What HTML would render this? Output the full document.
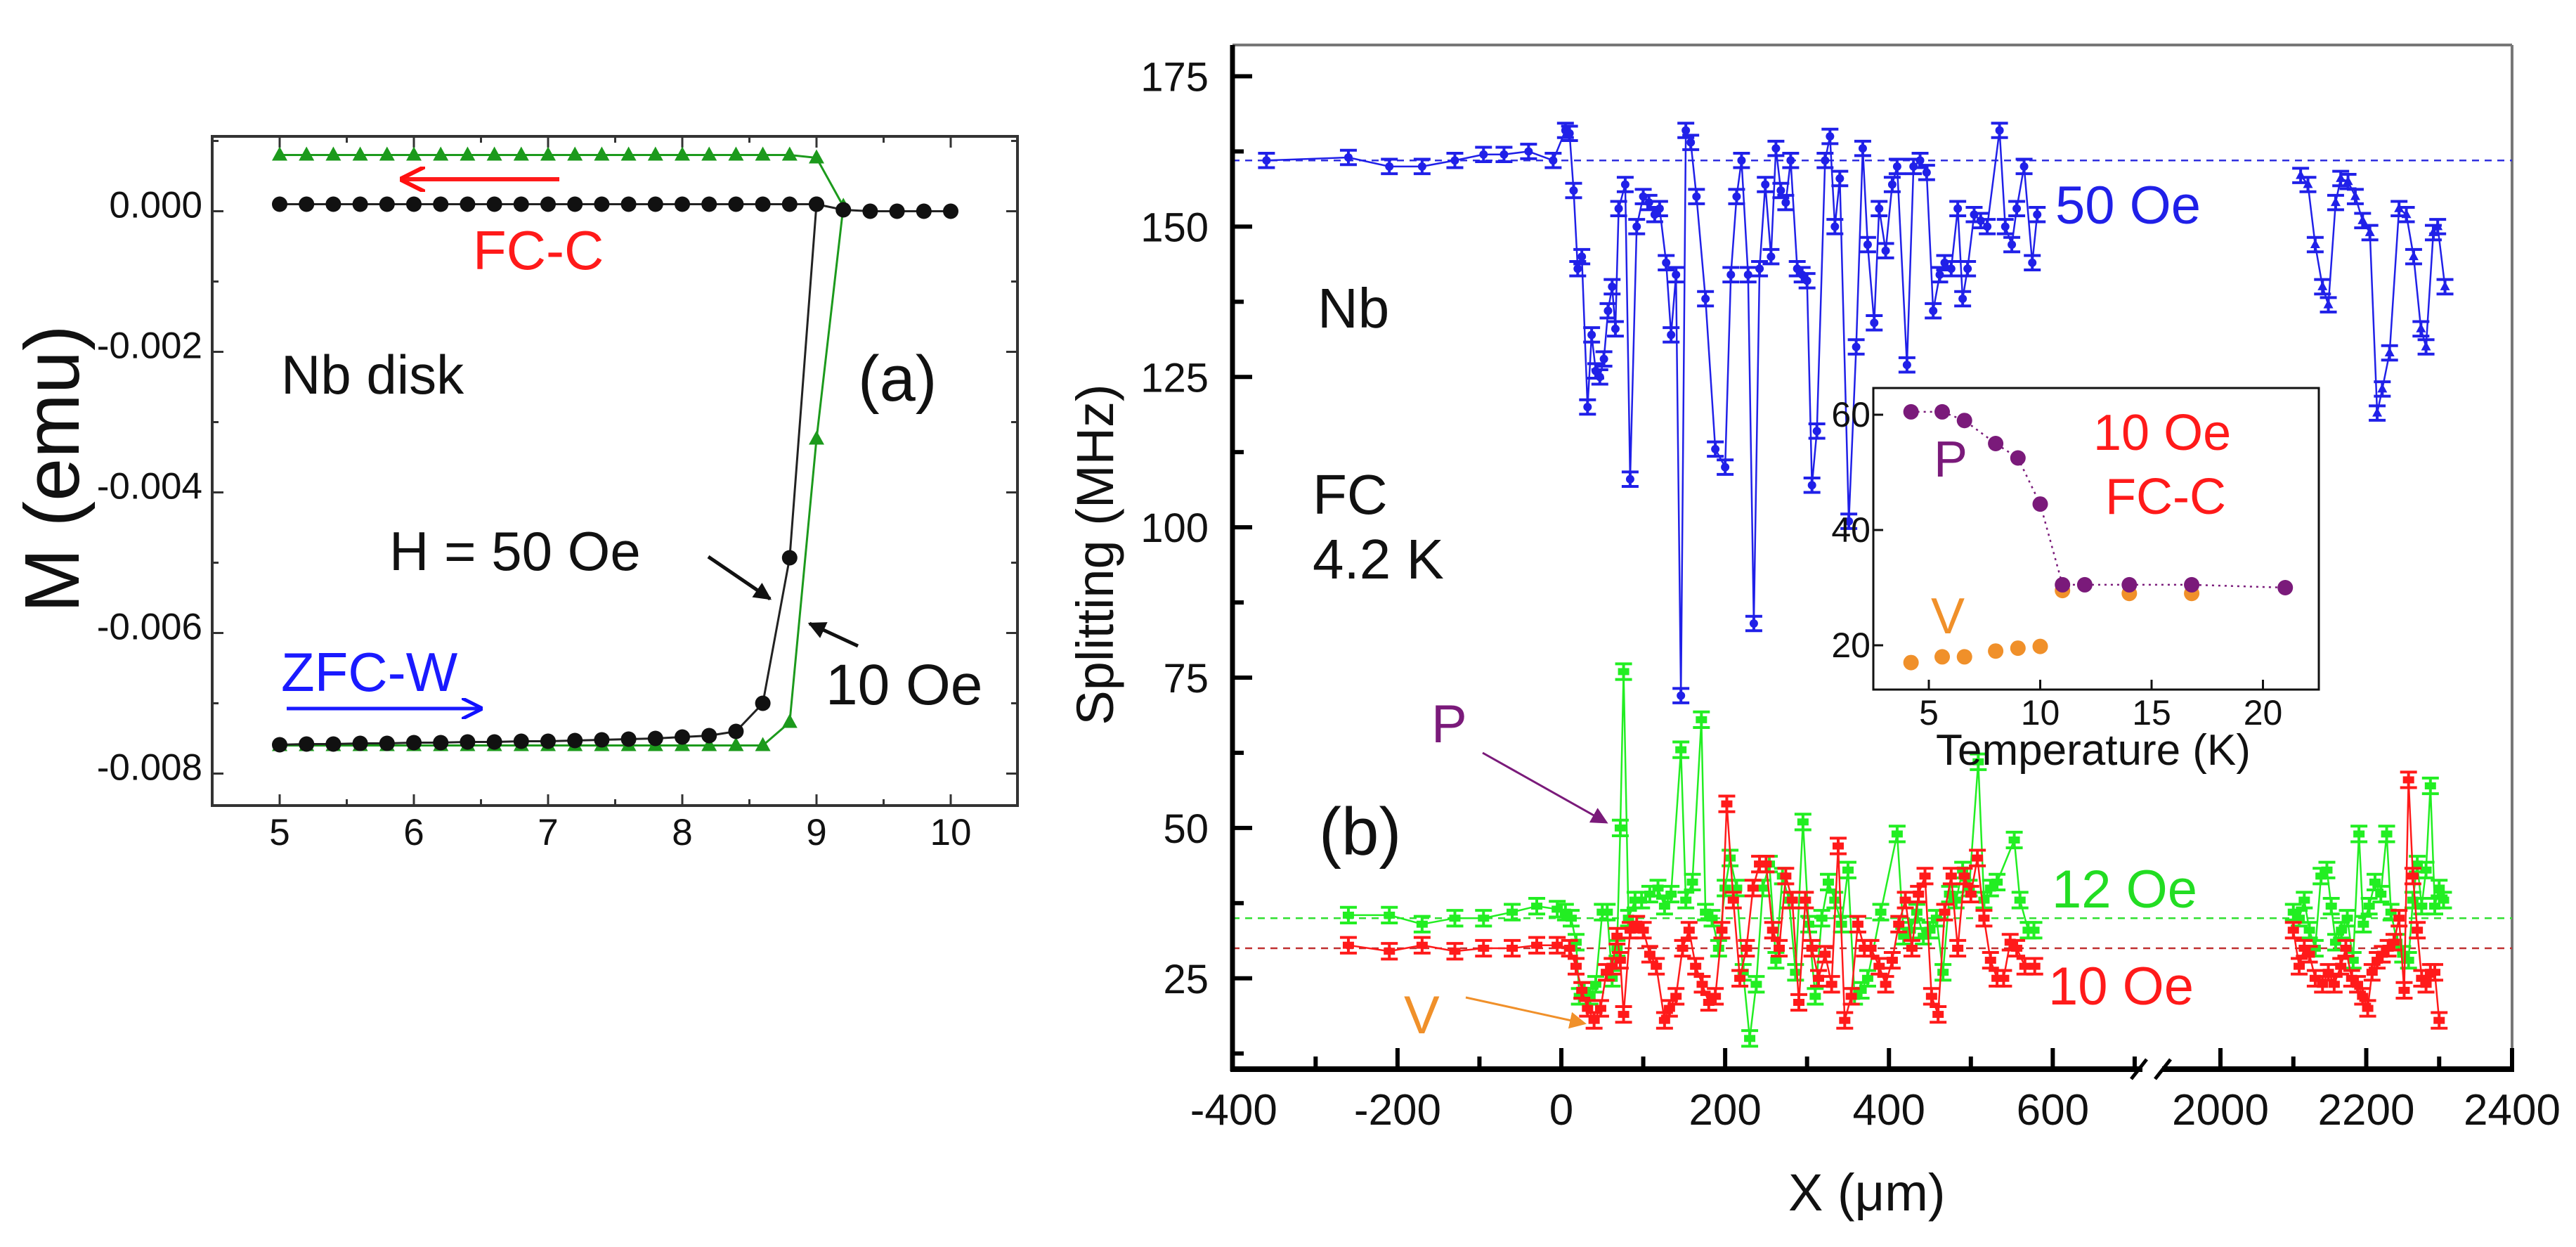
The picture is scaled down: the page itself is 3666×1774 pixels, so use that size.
<!DOCTYPE html>
<html><head><meta charset="utf-8"><style>
html,body{margin:0;padding:0;background:#fff;}
svg{display:block;font-family:"Liberation Sans",Arial,sans-serif;}
</style></head><body>
<svg id="fig" width="3666" height="1774" viewBox="0 0 3666 1774" xmlns="http://www.w3.org/2000/svg">
<defs>
<marker id="ahR" markerWidth="6" markerHeight="6" refX="5" refY="3" orient="auto" markerUnits="strokeWidth"><path d="M0,0 L6,3 L0,6" fill="none" stroke="#ff1010" stroke-width="1"/></marker>
<marker id="ahB" markerWidth="6" markerHeight="6" refX="5" refY="3" orient="auto" markerUnits="strokeWidth"><path d="M0,0 L6,3 L0,6" fill="none" stroke="#1010ff" stroke-width="1"/></marker>
<marker id="ahK" markerWidth="5" markerHeight="5" refX="4.5" refY="2.5" orient="auto" markerUnits="strokeWidth"><path d="M0,0 L5,2.5 L0,5 Z" fill="#111"/></marker>
<marker id="ahP" markerWidth="8" markerHeight="8" refX="7" refY="4" orient="auto" markerUnits="strokeWidth"><path d="M0,0 L8,4 L0,8 Z" fill="#7a1a7a"/></marker>
<marker id="ahO" markerWidth="8" markerHeight="8" refX="7" refY="4" orient="auto" markerUnits="strokeWidth"><path d="M0,0 L8,4 L0,8 Z" fill="#f0902a"/></marker>
</defs>
<g id="pa"></g>
<g id="pb"></g>
<g id="pin"></g>
</svg>
<script>
// ---------- Panel (a) data ----------
const aX = [5,5.2,5.4,5.6,5.8,6,6.2,6.4,6.6,6.8,7,7.2,7.4,7.6,7.8,8,8.2,8.4,8.6,8.8,9,9.2,9.4,9.6,9.8,10];
const a50ZFC = [-0.00769,-0.00768,-0.00768,-0.00767,-0.00767,-0.00766,-0.00766,-0.00765,-0.00765,-0.00764,-0.00764,-0.00763,-0.00762,-0.00761,-0.0076,-0.00758,-0.00756,-0.0075,-0.0071,-0.00503,0.0];
const a50FC = [0,0,0,0,0,0,0,0,0,0,0,0,0,0,0,0,0,0,0,0,0,-0.00008,-0.0001,-0.0001,-0.0001,-0.0001];
const a10ZFC = [-0.0077,-0.0077,-0.0077,-0.0077,-0.0077,-0.0077,-0.0077,-0.0077,-0.0077,-0.0077,-0.0077,-0.0077,-0.0077,-0.0077,-0.0077,-0.0077,-0.0077,-0.0077,-0.0077,-0.00737,-0.00334,-0.00003];
const a10FC = [0.0007,0.0007,0.0007,0.0007,0.0007,0.0007,0.0007,0.0007,0.0007,0.0007,0.0007,0.0007,0.0007,0.0007,0.0007,0.0007,0.0007,0.0007,0.0007,0.0007,0.00066,-0.00003];
const aXTicks = ["5","6","7","8","9","10"];
const aYTicks = ["0.000","-0.002","-0.004","-0.006","-0.008"];

// ---------- Panel (b) data ----------
const b50 = [[-360,161],[-260,161.5],[-210,160],[-170,160],[-130,161],[-95,162],[-70,162],[-40,162.5],[-10,161],[5,166],[10,165.5],[15,156],[20,143],[25,145],[32,120],[37,132],[42,126],[47,125],[52,128],[57,136],[62,140],[66,133],[70,153],[78,157],[84,108],[92,150],[100,155],[107,154],[114,152],[120,153],[128,144],[134,132],[140,142],[146,72],[152,166],[158,164],[165,155],[176,138],[188,113],[200,110],[207,142],[214,155],[220,161],[228,142],[235,84],[242,143],[249,157],[256,145],[262,163],[268,156],[274,154],[280,161],[288,143],[294,142],[300,141],[306,107],[312,116],[322,161],[328,165],[334,150],[340,158],[351,101],[360,130],[368,163],[374,147],[382,134],[388,153],[396,146],[404,157],[410,160],[422,127],[430,160],[438,161],[446,159],[454,136],[462,142],[468,144],[476,143],[484,153],[490,138],[496,143],[504,152],[512,151],[520,150],[535,166],[542,150],[550,147],[556,153],[565,160],[575,144],[581,152]];
const b50R = [[2110,158.5],[2120,157],[2130,147],[2140,140],[2148,137],[2158,154],[2165,158],[2175,157.5],[2185,155],[2195,151],[2205,149],[2215,119],[2222,123],[2232,129],[2245,153],[2255,152],[2265,145],[2275,133],[2282,130],[2292,149],[2298,150],[2308,140]];
const b12 = [[-260,35.5],[-210,35.5],[-170,34],[-130,35],[-95,35],[-60,36],[-30,37],[-5,36.5],[5,36],[12,35],[18,31],[22,22],[28,23],[35,22],[42,24],[50,36],[56,36],[62,25],[68,30],[72,50],[76,76],[82,35],[90,38],[98,38],[108,39],[118,40],[126,37],[134,39],[146,63],[152,38],[160,41],[171,68],[176,36],[184,35],[192,30],[200,40],[206,45],[214,40],[222,26],[230,15],[238,24],[246,40],[254,44],[262,28],[270,42],[278,38],[286,26],[295,51],[302,34],[310,22],[318,35],[326,41],[334,38],[342,34],[350,43],[358,22],[366,23],[374,25],[390,36],[410,49],[418,32],[426,33],[434,36],[442,32],[450,33],[458,35],[466,26],[474,39],[482,38],[490,43],[498,40],[509,61],[516,38],[524,40],[532,41],[553,48],[560,38],[570,33],[577,33]];
const b12R = [[2100,36],[2108,35],[2115,38],[2122,33],[2130,30],[2138,42],[2146,43],[2152,37],[2158,31],[2166,33],[2174,35],[2182,28],[2190,49],[2196,34],[2204,37],[2212,41],[2220,39],[2228,49],[2234,36],[2242,31],[2250,29],[2258,28],[2264,38],[2270,44],[2276,37],[2282,43],[2288,57],[2294,37],[2300,40],[2306,38]];
const b10 = [[-260,30.5],[-210,29.5],[-170,30.5],[-130,29.5],[-95,30],[-60,30],[-30,30.5],[-5,30.5],[10,30],[18,27],[25,23],[32,20],[40,18],[48,20],[55,26],[62,27],[68,32],[72,28],[76,19],[84,33],[92,34],[100,33],[108,29],[116,27],[126,18],[132,20],[140,22],[148,30],[156,33],[164,27],[172,24],[180,21],[188,22],[196,33],[202,54],[210,38],[218,25],[226,30],[234,40],[242,44],[250,44],[258,33],[266,30],[274,42],[282,38],[290,21],[298,38],[306,30],[314,25],[322,29],[330,24],[338,47],[346,18],[354,22],[362,34],[370,30],[378,30],[388,27],[396,24],[404,28],[412,34],[420,38],[428,30],[436,39],[444,42],[452,22],[460,19],[468,36],[476,42],[484,30],[492,42],[500,39],[508,45],[516,35],[524,28],[532,25],[540,25],[548,31],[556,30],[566,27],[578,27]];
const b10R = [[2100,33],[2108,27],[2115,30],[2122,29],[2130,25],[2140,24],[2148,26],[2156,24],[2165,27],[2172,30],[2180,25],[2188,24],[2195,22],[2202,20],[2208,26],[2215,28],[2222,29],[2230,30],[2238,31],[2245,35],[2252,23],[2258,58],[2264,42],[2270,33],[2276,25],[2282,24],[2288,26],[2294,26],[2300,18]];
const bErr = [1.2, 1.3, 1.3];
const bRef = [161, 35, 30];
const bYTicks = [25,50,75,100,125,150,175];
const bXTicksL = [-400,-200,0,200,400,600];
const bXTicksR = [2000,2200,2400];

// ---------- Inset data ----------
const inP = [[4.2,60.5],[5.6,60.5],[6.6,59],[8,55],[9,52.5],[10,44.5],[11,30.5],[12,30.5],[14,30.5],[16.8,30.5],[21,30]];
const inV = [[4.2,17],[5.6,18],[6.6,18],[8,19],[9,19.5],[10,19.8],[11,29.5],[14,29],[16.8,29]];
const inXTicks = [5,10,15,20];
const inYTicks = [20,40,60];

const NS = "http://www.w3.org/2000/svg";
function mk(parent, tag, attrs, text){
  const e = document.createElementNS(NS, tag);
  for (const k in attrs) e.setAttribute(k, attrs[k]);
  if (text !== undefined) e.textContent = text;
  parent.appendChild(e);
  return e;
}

// ===== Panel (a) =====
const pa = document.getElementById('pa');
const aL=302, aR=1448, aT=194, aB=1146;
const ax = v => 398 + (v-5)*191;
const ay = m => 290.5 - m*100000;
for (let v=4.5; v<=10.51; v+=0.5){
  const major = Math.abs(v-Math.round(v))<1e-6;
  const len = major?16:9;
  const t1 = mk(pa,'line',{x1:ax(v),x2:ax(v),y1:aB,y2:aB-len,stroke:'#333','stroke-width':3});
  
  
  mk(pa,'line',{x1:ax(v),x2:ax(v),y1:aT,y2:aT+len,stroke:'#333','stroke-width':3});
}
for (let m=0.0009; m>=-0.0085; m-=0.001){
  const mm = Math.round(m*10000)/10000;
  const major = Math.abs(Math.round(mm*1000)%2)===0;
  const len = major?16:9;
  mk(pa,'line',{x1:aL,x2:aL+len,y1:ay(mm),y2:ay(mm),stroke:'#333','stroke-width':3});
  mk(pa,'line',{x1:aR,x2:aR-len,y1:ay(mm),y2:ay(mm),stroke:'#333','stroke-width':3});
}
const aFrame = mk(pa,'rect',{x:aL,y:aT,width:aR-aL,height:aB-aT,fill:'none',stroke:'#333','stroke-width':4});


aXTicks.forEach((t,i)=>{
  const e = mk(pa,'text',{x:ax(+t),y:1202,'font-size':53,'text-anchor':'middle',fill:'#111'},t);
  
  
});
aYTicks.forEach((t,i)=>{
  const e = mk(pa,'text',{x:288,y:ay(+t)+19,'font-size':53,'text-anchor':'end',fill:'#111'},t);
  
  
});
function aSeries(xs, ys, color, shape, name){
  const pts = ys.map((y,i)=>[ax(xs[i]),ay(y)]);
  const pl = mk(pa,'polyline',{points:pts.map(p=>p.join(',')).join(' '),fill:'none',stroke:color,'stroke-width':3});
  
  
  pts.forEach(p=>{
    let e;
    if (shape==='c') e = mk(pa,'circle',{cx:p[0],cy:p[1],r:11,fill:'#111'});
    else e = mk(pa,'polygon',{points:`${p[0]},${p[1]-12} ${p[0]-11},${p[1]+8} ${p[0]+11},${p[1]+8}`,fill:'#1c9a1c'});
    
    
  });
}
aSeries(aX, a10FC, '#1c9a1c', 't', 'a-10oe-fc');
aSeries(aX, a10ZFC, '#1c9a1c', 't', 'a-10oe-zfc');
aSeries(aX, a50FC, '#222', 'c', 'a-50oe-fc');
aSeries(aX, a50ZFC, '#222', 'c', 'a-50oe-zfc');

function txt(parent, name, x, y, size, color, s, extra){
  const e = mk(parent,'text',Object.assign({x:x,y:y,'font-size':size,fill:color},extra||{}),s);
  
  
  return e;
}
function arrow(parent, name, x1,y1,x2,y2,color,w,marker){
  const e = mk(parent,'line',{x1:x1,y1:y1,x2:x2,y2:y2,stroke:color,'stroke-width':w,'marker-end':'url(#'+marker+')'});
  
  
}
txt(pa,'a-y-axis-title',0,0,110,'#111','M (emu)',{transform:'translate(112,667) rotate(-90)','text-anchor':'middle'});
txt(pa,'fc-c-label',673,383,78,'#ff1a1a','FC-C');
arrow(pa,'fc-c-arrow',796,255,575,255,'#ff1a1a',6,'ahR');
txt(pa,'nb-disk-label',400,560,78,'#111','Nb disk');
txt(pa,'panel-a-label',1221,570,92,'#111','(a)');
txt(pa,'h-50oe-label',554,811,78,'#111','H = 50 Oe');
arrow(pa,'h-50oe-arrow',1008,792,1096,852,'#111',5,'ahK');
txt(pa,'10oe-label',1175,1002,82,'#111','10 Oe');
arrow(pa,'10oe-arrow',1221,919,1152,887,'#111',5,'ahK');
txt(pa,'zfc-w-label',400,983,78,'#1a1aff','ZFC-W');
arrow(pa,'zfc-w-arrow',408,1008,682,1008,'#1a1aff',5,'ahB');

// ===== Panel (b) =====
const pb = document.getElementById('pb');
const bL=1754, bR=3575, bT=64, bB=1521, brk=3063;
const bx = v => v<1000 ? 2222 + v*1.1656 : 3160 + (v-2000)*1.0375;
const by = v => 108.5 + (175-v)*8.555;
mk(pb,'line',{x1:bL,y1:bT,x2:bR,y2:bT,stroke:'#777','stroke-width':4});
mk(pb,'line',{x1:bR,y1:bT,x2:bR,y2:bB,stroke:'#777','stroke-width':4});
const refCols = ['#3030e0','#30e030','#c03030'];
bRef.forEach((v,i)=>{
  const e = mk(pb,'line',{x1:bL,x2:bR,y1:by(v),y2:by(v),stroke:refCols[i],'stroke-width':2.5,'stroke-dasharray':'10,8'});
  
  
});
function bSeries(data, color, name, err, shape){
  const pts = data.map(d=>[bx(d[0]),by(d[1])]);
  const pl = mk(pb,'polyline',{points:pts.map(p=>p.join(',')).join(' '),fill:'none',stroke:color,'stroke-width':2.5});
  
  
  data.forEach((d,i)=>{
    const x=pts[i][0], y=pts[i][1];
    const e1 = by(d[1]+err), e2 = by(d[1]-err);
    const g = mk(pb,'g',{});
    
    
    mk(g,'path',{d:`M${x},${e1}V${e2}M${x-12},${e1}H${x+12}M${x-12},${e2}H${x+12}`,stroke:color,'stroke-width':4,fill:'none'});
    if (shape==='c') mk(g,'circle',{cx:x,cy:y,r:6,fill:color});
    else if (shape==='t') mk(g,'polygon',{points:`${x},${y-8} ${x-7},${y+5} ${x+7},${y+5}`,fill:color});
    else mk(g,'rect',{x:x-8,y:y-5,width:16,height:10,fill:color});
  });
}
bSeries(b50,'#2020e8','b-50oe',bErr[0],'c');
bSeries(b50R,'#2020e8','b-50oe-right',bErr[0],'t');
bSeries(b12,'#22ee22','b-12oe',bErr[1],'s');
bSeries(b12R,'#22ee22','b-12oe-right',bErr[1],'s');
bSeries(b10,'#ff1a1a','b-10oe',bErr[2],'s');
bSeries(b10R,'#ff1a1a','b-10oe-right',bErr[2],'s');
const yAx = mk(pb,'line',{x1:bL,y1:bT,x2:bL,y2:bB+3,stroke:'#000','stroke-width':7});


const xAx1 = mk(pb,'line',{x1:bL-3,y1:bB,x2:brk-14,y2:bB,stroke:'#000','stroke-width':8});


mk(pb,'line',{x1:brk+14,y1:bB,x2:bR+3,y2:bB,stroke:'#000','stroke-width':8});
mk(pb,'line',{x1:bR,y1:bB,x2:bR,y2:bB-30,stroke:'#000','stroke-width':6});
const br = mk(pb,'path',{d:`M${brk-30},${bB+14}L${brk-8},${bB-14}M${brk+4},${bB+14}L${brk+26},${bB-14}`,stroke:'#000','stroke-width':5,fill:'none'});


for (let v=12.5; v<=175.1; v+=12.5){
  const major = Math.abs(v%25)<1e-6;
  mk(pb,'line',{x1:bL,x2:bL+(major?28:16),y1:by(v),y2:by(v),stroke:'#000','stroke-width':6});
}
for (let v=-300; v<=700; v+=100){
  const major = Math.abs(v%200)<1e-6;
  if (bx(v)>brk-20) continue;
  mk(pb,'line',{x1:bx(v),x2:bx(v),y1:bB,y2:bB-(major?30:18),stroke:'#000','stroke-width':6});
}
for (let v=2000; v<=2300; v+=100){
  const major = Math.abs(v%200)<1e-6;
  mk(pb,'line',{x1:bx(v),x2:bx(v),y1:bB,y2:bB-(major?30:18),stroke:'#000','stroke-width':6});
}
bYTicks.forEach(t=>{ txt(pb,'b-y-tick-label',1720,by(t)+21,58,'#111',String(t),{'text-anchor':'end'}); });
bXTicksL.forEach(t=>{ txt(pb,'b-x-tick-label',bx(t),1600,62,'#111',String(t),{'text-anchor':'middle'}); });
bXTicksR.forEach(t=>{ txt(pb,'b-x-tick-label',bx(t),1600,62,'#111',String(t),{'text-anchor':'middle'}); });
txt(pb,'b-y-axis-title',0,0,74,'#111','Splitting (MHz)',{transform:'translate(1584,789) rotate(-90)','text-anchor':'middle'});
txt(pb,'b-x-axis-title',2545,1722,74,'#111','X (\u03bcm)');
txt(pb,'nb-label',1875,466,80,'#111','Nb');
txt(pb,'fc-label',1868,731,80,'#111','FC');
txt(pb,'temp-label',1868,823,80,'#111','4.2 K');
txt(pb,'panel-b-label',1877,1216,96,'#111','(b)');
txt(pb,'50oe-label',2925,318,76,'#2020e8','50 Oe');
txt(pb,'12oe-label',2920,1291,76,'#22dd22','12 Oe');
txt(pb,'10oe-b-label',2915,1429,76,'#ff1a1a','10 Oe');
txt(pb,'p-label',2037,1056,76,'#7a1a7a','P');
arrow(pb,'p-arrow',2110,1071,2286,1170,'#7a1a7a',3,'ahP');
txt(pb,'v-label',1998,1470,76,'#f0902a','V');
arrow(pb,'v-arrow',2086,1419,2255,1456,'#f0902a',3,'ahO');

// ===== Inset =====
const pin = document.getElementById('pin');
const iL=2666, iR=3300, iT=552, iB=981;
const ix = t => 2745 + (t-5)*31.7;
const iy = v => 590 - (v-60)*8.2;
const iFrame = mk(pin,'rect',{x:iL,y:iT,width:iR-iL,height:iB-iT,fill:'#fff',stroke:'#111','stroke-width':3});


inXTicks.forEach(t=>{
  mk(pin,'line',{x1:ix(t),x2:ix(t),y1:iB,y2:iB-14,stroke:'#111','stroke-width':3});
  txt(pin,'inset-x-tick-label',ix(t),1031,50,'#111',String(t),{'text-anchor':'middle'});
});
inYTicks.forEach(t=>{
  mk(pin,'line',{x1:iL,x2:iL+14,y1:iy(t),y2:iy(t),stroke:'#111','stroke-width':3});
  txt(pin,'inset-y-tick-label',iL-4,iy(t)+17,50,'#111',String(t),{'text-anchor':'end'});
});
txt(pin,'inset-x-axis-title',2755,1088,62,'#111','Temperature (K)');
function inSeries(data,color,name,line){
  const pts = data.map(d=>[ix(d[0]),iy(d[1])]);
  if (line){
    const pl = mk(pin,'polyline',{points:pts.map(p=>p.join(',')).join(' '),fill:'none',stroke:color,'stroke-width':2.5,'stroke-dasharray':'3,6'});
    
    
  }
  pts.forEach(p=>{
    const e = mk(pin,'circle',{cx:p[0],cy:p[1],r:11,fill:color});
    
    
  });
}
inSeries(inV,'#f0902a','inset-v',false);
inSeries(inP,'#7a1a7a','inset-p',true);
txt(pin,'inset-10oe-label',2979,640,72,'#ff1a1a','10 Oe');
txt(pin,'inset-fc-c-label',2996,731,72,'#ff1a1a','FC-C');
txt(pin,'inset-p-label',2752,678,72,'#7a1a7a','P');
txt(pin,'inset-v-label',2748,901,72,'#f0902a','V');
</script>
</body></html>
